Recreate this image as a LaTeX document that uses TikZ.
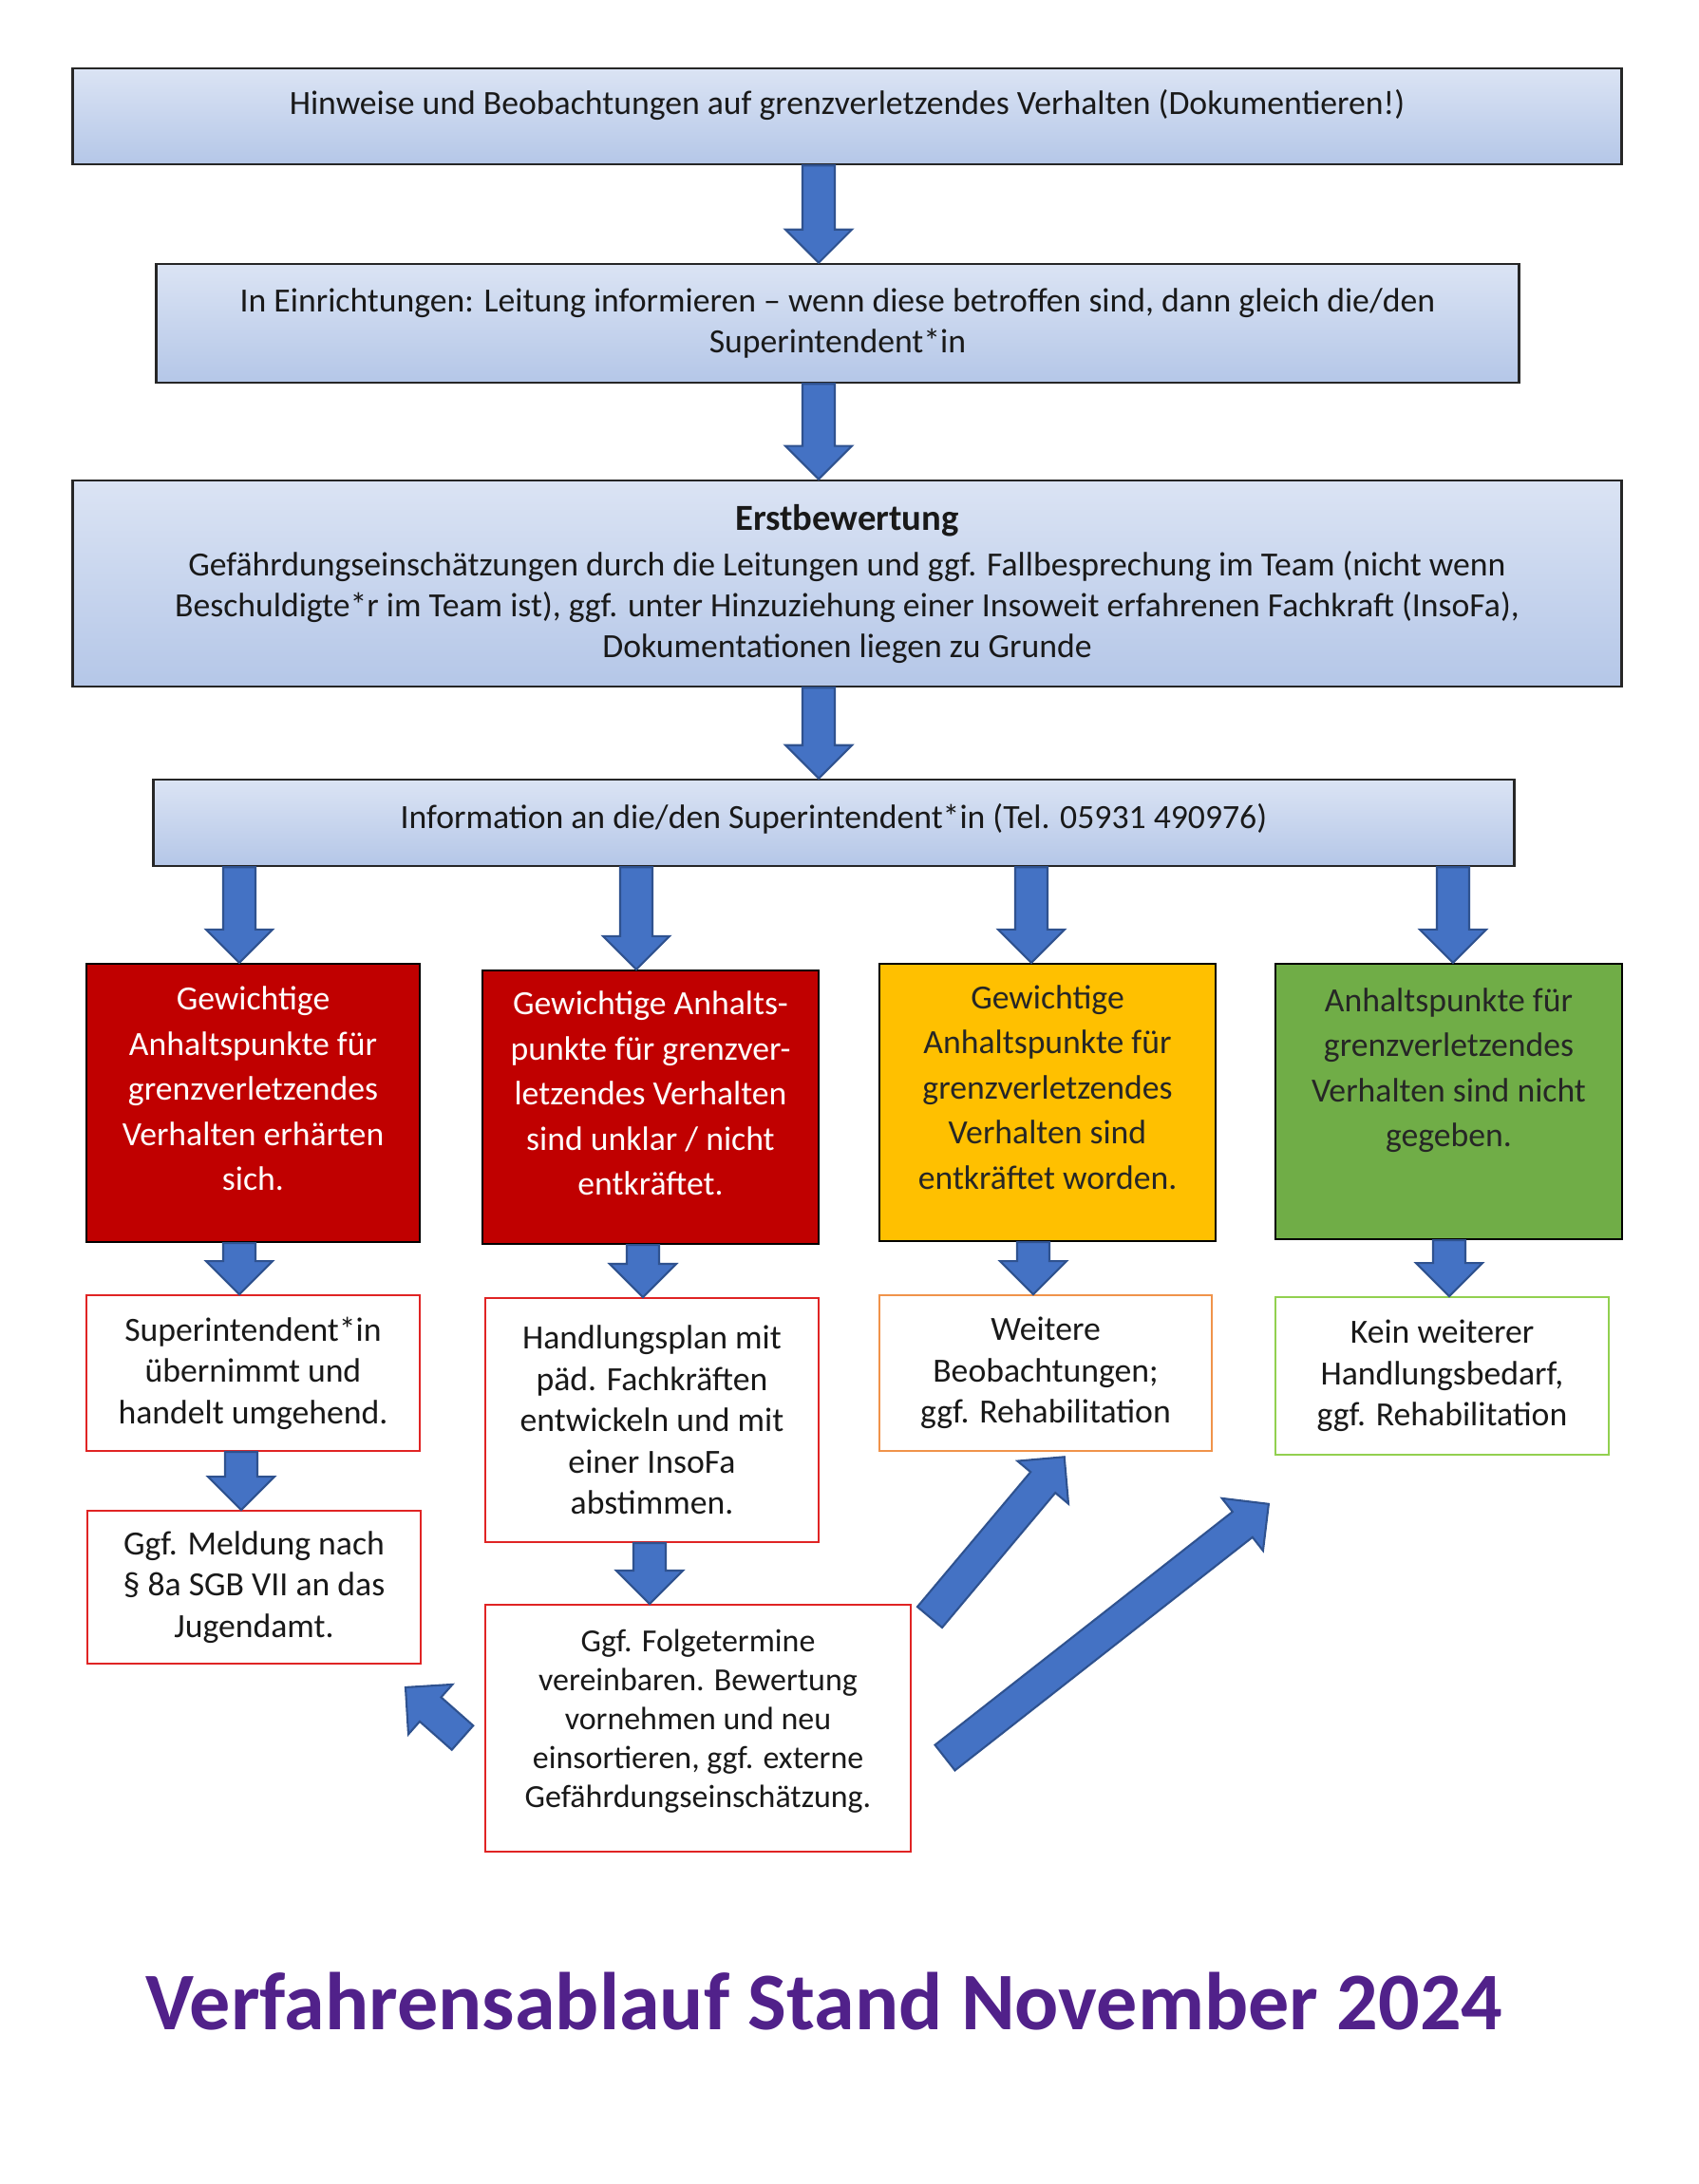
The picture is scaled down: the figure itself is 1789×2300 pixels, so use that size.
\documentclass[tikz,border=0pt]{standalone}
\usepackage{fontspec}
\setmainfont{Carlito}
\usetikzlibrary{calc}

\definecolor{arrowblue}{HTML}{4472C4}
\definecolor{arrowline}{HTML}{2F528F}
\definecolor{boxred}{HTML}{C00000}
\definecolor{boxyellow}{HTML}{FFC000}
\definecolor{boxgreen}{HTML}{70AD47}
\definecolor{framered}{HTML}{E02424}
\definecolor{frameorange}{HTML}{F0934A}
\definecolor{framegreen}{HTML}{92D050}
\definecolor{titlepurple}{HTML}{51218A}
\definecolor{gradtop}{HTML}{EEF2FA}
\definecolor{graddark}{HTML}{A9BEE4}
\definecolor{gradlow}{HTML}{BACBEA}

\pgfdeclareverticalshading{boxgrad}{100bp}{color(0bp)=(gradlow); color(10bp)=(graddark); color(100bp)=(gradtop)}

% extra depth under the last line, moves the text up
\newcommand{\liftby}[1]{\rule[-#1]{0pt}{#1}}

% block arrow from tail to tip
\newcommand{\blockarr}[2]{%
  \draw[blockarrow] let \p1=#1, \p2=#2, \n1={atan2(\y2-\y1,\x2-\x1)}, \n2={veclen(\x2-\x1,\y2-\y1)} in
    {[shift={(\p1)}, rotate=\n1]
    (0,-0.17cm) -- ({\n2*1pt-0.35cm},-0.17cm) -- ({\n2*1pt-0.35cm},-0.35cm) -- ({\n2*1pt},0)
    -- ({\n2*1pt-0.35cm},0.35cm) -- ({\n2*1pt-0.35cm},0.17cm) -- (0,0.17cm) -- cycle};
}

\begin{document}
\begin{tikzpicture}[x=0.01cm, y=-0.01cm,
    gradbox/.style={draw=black!85, line width=0.7pt, shading=boxgrad, align=center, inner sep=0pt,
      text=black!90, font=\fontsize{10.15}{12.2}\selectfont},
    colbox/.style={draw=black, line width=0.6pt, fill=#1, align=center, inner sep=0pt,
      font=\fontsize{10.15}{13.5}\selectfont},
    linebox/.style={draw=#1, line width=0.5pt, fill=white, align=center, inner sep=0pt,
      text=black!90, font=\fontsize{10.15}{12.4}\selectfont},
    blockarrow/.style={fill=arrowblue, draw=arrowline, line width=0.6pt, line join=miter}]

    \useasboundingbox (0,0) rectangle (1789,2300);

    % blue boxes
    \node[gradbox, minimum width=16.3cm, minimum height=1.01cm] (hinweise) at (892,122.5)
        {Hinweise und Beobachtungen auf grenzverletzendes Verhalten (Dokumentieren!)\liftby{0.31cm}};
    \node[gradbox, minimum width=14.34cm, minimum height=1.25cm] (einrichtung) at (882,340.5)
        {In Einrichtungen: Leitung informieren – wenn diese betroffen sind, dann gleich die/den\\Superintendent*in};
    \node[gradbox, minimum width=16.3cm, minimum height=2.17cm] (erst) at (892,614.5)
        {{\bfseries\fontsize{11}{13}\selectfont Erstbewertung}\\[1.5pt]
         Gefährdungseinschätzungen durch die Leitungen und ggf. Fallbesprechung im Team (nicht wenn\\
         Beschuldigte*r im Team ist), ggf. unter Hinzuziehung einer Insoweit erfahrenen Fachkraft (InsoFa),\\
         Dokumentationen liegen zu Grunde};
    \node[gradbox, minimum width=14.32cm, minimum height=0.91cm] (info) at (878,866.5)
        {Information an die/den Superintendent*in (Tel. 05931 490976)\liftby{0.15cm}};

    % coloured boxes
    \node[colbox=boxred, text=white, minimum width=3.51cm, minimum height=2.93cm] (erhaerten) at (266.5,1161.5)
        {Gewichtige\\Anhaltspunkte für\\grenzverletzendes\\Verhalten erhärten\\sich.\liftby{0.30cm}};
    \node[colbox=boxred, text=white, minimum width=3.54cm, minimum height=2.88cm] (unklar) at (685,1166)
        {Gewichtige Anhalts-\\punkte für grenzver-\\letzendes Verhalten\\sind unklar / nicht\\entkräftet.\liftby{0.29cm}};
    \node[colbox=boxyellow, text=black!85, minimum width=3.54cm, minimum height=2.92cm] (entkraeftet) at (1103,1161)
        {Gewichtige\\Anhaltspunkte für\\grenzverletzendes\\Verhalten sind\\entkräftet worden.\liftby{0.32cm}};
    \node[colbox=boxgreen, text=black!85, minimum width=3.65cm, minimum height=2.90cm] (nicht) at (1525.5,1160)
        {Anhaltspunkte für\\grenzverletzendes\\Verhalten sind nicht\\gegeben.\liftby{0.72cm}};

    % white boxes
    \node[linebox=framered, minimum width=3.51cm, minimum height=1.64cm] (superint) at (266.5,1446)
        {Superintendent*in\\übernimmt und\\handelt umgehend.};
    \node[linebox=framered, minimum width=3.51cm, minimum height=2.57cm] (handlung) at (686.5,1495.5)
        {Handlungsplan mit\\päd. Fachkräften\\entwickeln und mit\\einer InsoFa\\abstimmen.};
    \node[linebox=frameorange, minimum width=3.50cm, minimum height=1.64cm] (weitere) at (1101,1446)
        {Weitere\\Beobachtungen;\\ggf. Rehabilitation};
    \node[linebox=framegreen, minimum width=3.51cm, minimum height=1.66cm] (kein) at (1518.5,1449)
        {Kein weiterer\\Handlungsbedarf,\\ggf. Rehabilitation};
    \node[linebox=framered, minimum width=3.51cm, minimum height=1.61cm] (meldung) at (267.5,1671.5)
        {Ggf. Meldung nach\\§ 8a SGB VII an das\\Jugendamt.};
    \node[linebox=framered, font=\fontsize{9.65}{11.7}\selectfont, minimum width=4.48cm, minimum height=2.60cm] (folge) at (735,1820)
        {Ggf. Folgetermine\\vereinbaren. Bewertung\\vornehmen und neu\\einsortieren, ggf. externe\\Gefährdungseinschätzung.\liftby{0.21cm}};

    % arrows down
    \blockarr{(862,0 |- hinweise.south)}{(862,0 |- einrichtung.north)}
    \blockarr{(862,0 |- einrichtung.south)}{(862,0 |- erst.north)}
    \blockarr{(862,0 |- erst.south)}{(862,0 |- info.north)}

    \blockarr{(252,0 |- info.south)}{(252,0 |- erhaerten.north)}
    \blockarr{(670,0 |- info.south)}{(670,0 |- unklar.north)}
    \blockarr{(1086,0 |- info.south)}{(1086,0 |- entkraeftet.north)}
    \blockarr{(1530,0 |- info.south)}{(1530,0 |- nicht.north)}

    \blockarr{(252,0 |- erhaerten.south)}{(252,0 |- superint.north)}
    \blockarr{(677,0 |- unklar.south)}{(677,0 |- handlung.north)}
    \blockarr{(1088,0 |- entkraeftet.south)}{(1088,0 |- weitere.north)}
    \blockarr{(1526,0 |- nicht.south)}{(1526,0 |- kein.north)}

    \blockarr{(254,0 |- superint.south)}{(254,0 |- meldung.north)}
    \blockarr{(684,0 |- handlung.south)}{(684,0 |- folge.north)}

    % arrows out of the last box
    \coordinate (d1tail) at ([shift={(-23,10)}]folge.west);
    \coordinate (d1tip) at ([shift={(-17,24)}]meldung.south east);
    \coordinate (d2tail) at ([shift={(19,14)}]folge.north east);
    \coordinate (d2tip) at ([shift={(20,5)}]weitere.south);
    \coordinate (d3tail) at ([shift={(35,31)}]folge.east);
    \coordinate (d3tip) at ([shift={(-5,50)}]kein.south west);
    \blockarr{(d1tail)}{(d1tip)}
    \blockarr{(d2tail)}{(d2tip)}
    \blockarr{(d3tail)}{(d3tip)}

    \node[anchor=base, text=titlepurple, font=\fontsize{24.5}{28}\selectfont\bfseries] (titel) at (868,2137)
        {Verfahrensablauf Stand November 2024};
\end{tikzpicture}
\end{document}
